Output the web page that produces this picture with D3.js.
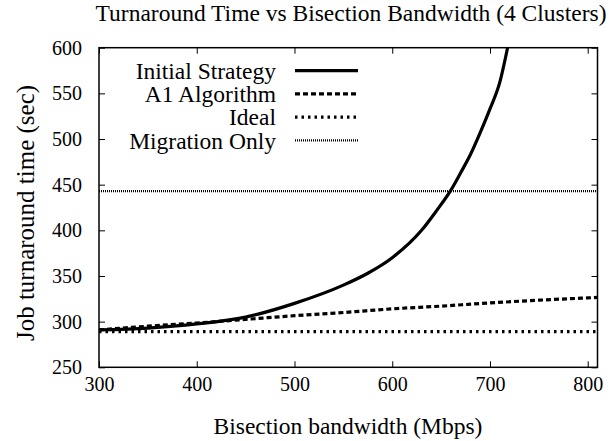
<!DOCTYPE html>
<html>
<head>
<meta charset="utf-8">
<script src="https://cdn.jsdelivr.net/npm/d3@7"></script>
<style>
  html, body { margin: 0; padding: 0; background: #fff; }
  svg text { font-family: "Liberation Serif", "Times New Roman", Times, serif; fill: #000; }
</style>
</head>
<body>
<svg id="chart" width="609" height="441"></svg>
<script>
// Bandwidth samples (Mbps) and turnaround times (sec) for each strategy
const initialBw   = [300, 350, 400, 450, 500, 550, 575, 600, 630, 645, 660, 670, 680, 690, 700, 710, 718];
const initialTime = [291, 293, 297.5, 305, 320, 340, 353, 370, 400, 421, 444, 463, 483, 507, 533, 562, 600];

const a1Bw   = [300, 350, 400, 450, 500, 550, 600, 650, 700, 750, 800, 810];
const a1Time = [291, 295, 298.5, 302.5, 306.5, 310, 314, 317, 320.5, 323.5, 326, 326.5];

const idealTime = 289;
const migrationTime = 443;

const xTicks = [300, 400, 500, 600, 700, 800];
const yTicks = [250, 300, 350, 400, 450, 500, 550, 600];

const legendNames = ["Initial Strategy", "A1 Algorithm", "Ideal", "Migration Only"];

const styles = {
  "Initial Strategy": { width: 3.2, dash: null },
  "A1 Algorithm":     { width: 3.2, dash: "5,3" },
  "Ideal":            { width: 3.2, dash: "2.5,4" },
  "Migration Only":   { width: 2.2, dash: "1,1" }
};

(function () {
  const svg = d3.select("#chart");
  const margin = { left: 99, right: 11.5, top: 47.7, bottom: 73.7 };
  const W = 609, H = 441;

  const x = d3.scaleLinear().domain([300, 810]).range([margin.left, W - margin.right]);
  const y = d3.scaleLinear().domain([250, 600]).range([H - margin.bottom, margin.top]);

  svg.append("defs").append("clipPath").attr("id", "plot-clip")
    .append("rect")
    .attr("x", x(300)).attr("y", y(600))
    .attr("width", x(810) - x(300)).attr("height", y(250) - y(600));

  // Axes with inward ticks on all four sides
  const tickLen = 6;
  const tickFont = 20;
  const labelFont = 23.5;
  const serif = '"Liberation Serif", "Times New Roman", Times, serif';

  const axBottom = svg.append("g").attr("transform", `translate(0,${y(250)})`)
    .call(d3.axisBottom(x).tickValues(xTicks).tickSize(-tickLen).tickPadding(10).tickFormat(d3.format("d")));
  const axTop = svg.append("g").attr("transform", `translate(0,${y(600)})`)
    .call(d3.axisTop(x).tickValues(xTicks).tickSize(-tickLen).tickFormat(""));
  const axLeft = svg.append("g").attr("transform", `translate(${x(300)},0)`)
    .call(d3.axisLeft(y).tickValues(yTicks).tickSize(-tickLen).tickPadding(17).tickFormat(d3.format("d")));
  const axRight = svg.append("g").attr("transform", `translate(${x(810)},0)`)
    .call(d3.axisRight(y).tickValues(yTicks).tickSize(-tickLen).tickFormat(""));

  [axBottom, axTop, axLeft, axRight].forEach(g => {
    g.attr("font-family", null).attr("font-size", null);
    g.select(".domain").remove();
    g.selectAll(".tick line").attr("stroke", "#000").attr("stroke-width", 1);
    g.selectAll(".tick text").style("font-size", tickFont + "px").style("font-family", serif);
  });

  // Plot frame
  svg.append("rect")
    .attr("x", x(300)).attr("y", y(600))
    .attr("width", x(810) - x(300)).attr("height", y(250) - y(600))
    .attr("fill", "none").attr("stroke", "#000").attr("stroke-width", 1.5);

  const plot = svg.append("g").attr("clip-path", "url(#plot-clip)");

  const line = d3.line().x(d => x(d[0])).y(d => y(d[1])).curve(d3.curveMonotoneX);

  function drawSeries(points, name) {
    const s = styles[name];
    plot.append("path")
      .datum(points)
      .attr("d", line)
      .attr("fill", "none")
      .attr("stroke", "#000")
      .attr("stroke-width", s.width)
      .attr("stroke-dasharray", s.dash);
  }

  drawSeries(initialBw.map((b, i) => [b, initialTime[i]]), "Initial Strategy");
  drawSeries(a1Bw.map((b, i) => [b, a1Time[i]]), "A1 Algorithm");
  drawSeries([[300, idealTime], [810, idealTime]], "Ideal");
  drawSeries([[300, migrationTime], [810, migrationTime]], "Migration Only");

  // Legend
  const legend = svg.append("g");
  legendNames.forEach((name, i) => {
    const yy = 70.7 + i * 23.2;
    legend.append("text")
      .attr("x", 276).attr("y", yy + 8.3)
      .attr("text-anchor", "end")
      .style("font-size", labelFont + "px")
      .style("font-family", serif)
      .text(name);
    const s = styles[name];
    legend.append("line")
      .attr("x1", 295).attr("x2", 358)
      .attr("y1", yy).attr("y2", yy)
      .attr("stroke", "#000")
      .attr("stroke-width", s.width)
      .attr("stroke-dasharray", s.dash);
  });

  // Titles
  svg.append("text")
    .attr("x", 351).attr("y", 20.5)
    .attr("text-anchor", "middle")
    .style("font-size", labelFont + "px")
    .style("font-family", serif)
    .text("Turnaround Time vs Bisection Bandwidth (4 Clusters)");

  svg.append("text")
    .attr("x", 348).attr("y", 434)
    .attr("text-anchor", "middle")
    .style("font-size", labelFont + "px")
    .style("font-family", serif)
    .text("Bisection bandwidth (Mbps)");

  svg.append("text")
    .attr("transform", `translate(33.5,213) rotate(-90)`)
    .attr("text-anchor", "middle")
    .style("font-size", "25px")
    .style("font-family", serif)
    .text("Job turnaround time (sec)");
})();
</script>
</body>
</html>
